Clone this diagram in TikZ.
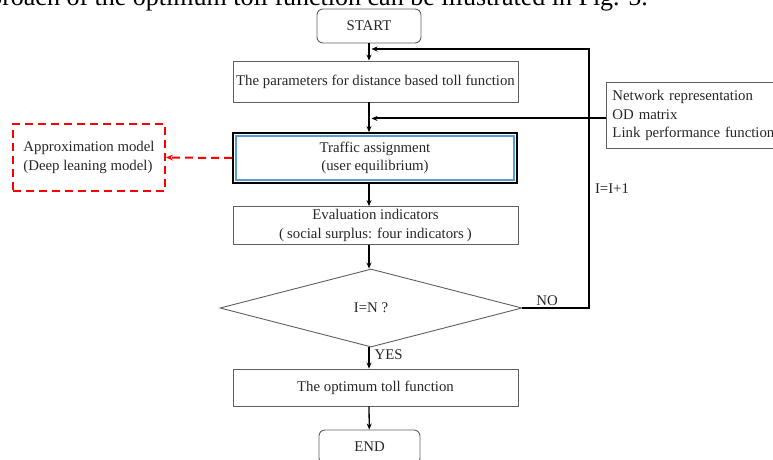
\documentclass[tikz,border=0pt]{standalone}
\usepackage{fontspec}
\setmainfont{Liberation Serif}
\usetikzlibrary{arrows.meta,shapes.geometric}
\definecolor{boxgray}{RGB}{95,95,95}
\definecolor{assignblue}{RGB}{91,155,213}
\definecolor{dashred}{RGB}{255,0,0}

\begin{document}
\begin{tikzpicture}[x=1pt, y=-1pt,
        every node/.style={font=\fontsize{14.8}{18.5}\selectfont, text=black!85},
        procbox/.style={draw=boxgray, line width=0.9pt, minimum width=285pt, minimum height=37pt, align=center, inner sep=3pt},
        termbox/.style={draw=boxgray, line width=0.9pt, rounded corners=6pt, minimum width=104pt, minimum height=34pt},
        flow/.style={line width=1.3pt, -{Stealth[length=6pt,width=5pt]}},
        loopline/.style={line width=2pt, -{Stealth[length=6pt,width=5pt]}},
        reddash/.style={draw=dashred, line width=2pt, dash pattern=on 8pt off 5pt}
    ]
    \useasboundingbox (0,0) rectangle (773,459);
    % text of the page above the figure
    \node[font=\fontsize{26}{30}\selectfont, text=black, anchor=base east, inner sep=0pt] (caption) at (648,5) {approach of the optimum toll function can be illustrated in Fig. 5.};
    % main column
    \node[termbox] (start) at (369,26) {START};
    \node[procbox, minimum height=41pt] (params) at (375.5,81.5) {The parameters for distance based toll function};
    \node[procbox, draw=black, line width=1.8pt, minimum width=284pt, minimum height=50pt] (assign) at (375,158) {Traffic assignment\\(user equilibrium)};
    \draw[assignblue, line width=1.8pt] ([shift={(4,4)}]assign.north west) rectangle ([shift={(-4,-4)}]assign.south east);
    \node[procbox] (eval) at (375.5,225.5) {Evaluation indicators\\(\hspace{0.2em}social surplus: four indicators\hspace{0.2em})};
    \node[draw=boxgray, line width=0.9pt, diamond, aspect=3.87, minimum width=302pt, minimum height=78pt, inner sep=0pt] (check) at (371,308) {I=N ?};
    \node[procbox] (optimum) at (375.5,387.5) {The optimum toll function};
    \node[termbox, minimum width=101pt] (finish) at (369.5,447) {END};
    % side boxes
    \node[draw=boxgray, line width=0.9pt, align=left, anchor=north west, inner xsep=6pt, inner ysep=3pt, text width=190pt, minimum height=66pt] (inputs) at (606,82) {Network representation\\OD matrix\\Link performance functions};
    \node[reddash, align=left, minimum width=152pt, minimum height=67pt] (approx) at (89,157.5) {Approximation model\\(Deep leaning model)};
    % connectors
    \draw[flow] (start) -- (start |- params.north);
    \draw[flow] (start |- params.south) -- (start |- assign.north);
    \draw[flow] (start |- assign.south) -- (start |- eval.north);
    \draw[flow] (start |- eval.south) -- (start |- check.north);
    \draw[flow] (start |- check.south) -- node[pos=0.35, anchor=west, inner xsep=5pt] (yes) {YES} (start |- optimum.north);
    \draw[flow] (start |- optimum.south) -- (finish);
    \draw[reddash, -{Stealth[length=7pt,width=6pt]}] (assign.west) -- (approx.east);
    % loop back and inputs
    \coordinate (loopcorner) at (589,308);
    \coordinate (looptop) at (589,49);
    \coordinate (loopin) at (371.5,49);
    \draw[loopline] (check.east) -- node[above, pos=0.37, inner sep=1pt] (no) {NO} (loopcorner) -- node[pos=0.46, anchor=west, inner xsep=5pt] (count) {I=I+1} (looptop) -- (loopin);
    \draw[loopline] ([yshift=-3pt]inputs.west) -- ([yshift=-3pt]inputs.west -| loopin);
\end{tikzpicture}
\end{document}
